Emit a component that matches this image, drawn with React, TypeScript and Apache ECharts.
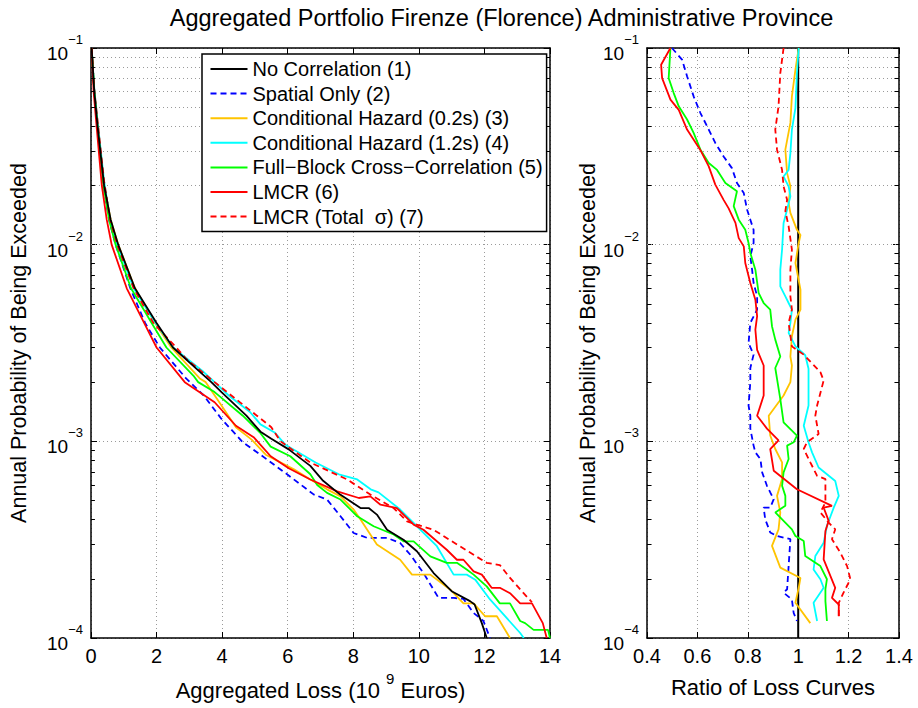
import React, { useEffect, useRef } from "react";
import * as echarts from "echarts";

const FONT = "'Liberation Sans', Arial, Helvetica, sans-serif";

const TITLE = "Aggregated Portfolio Firenze (Florence) Administrative Province";
const Y_NAME = "Annual Probability of Being Exceeded";
const X_NAME_LEFT = ["Aggregated Loss (10 ", "9", " Euros)"];
const X_NAME_RIGHT = "Ratio of Loss Curves";

const seriesNames = [
  "No Correlation (1)",
  "Spatial Only (2)",
  "Conditional Hazard (0.2s) (3)",
  "Conditional Hazard (1.2s) (4)",
  "Full\u2212Block Cross\u2212Correlation (5)",
  "LMCR (6)",
  "LMCR (Total  \u03c3) (7)",
];
const seriesColors = ["#000000", "#0000ff", "#ffc400", "#00ffff", "#00ff00", "#ff0000", "#ff0000"];
const seriesDashed = [false, true, false, false, false, false, true];

// Left panel: [aggregated loss (1e9 EUR), annual probability of exceedance]
const lossNoCorr: [number, number][] = [
  [0.02, 0.1], [0.1, 0.06], [0.2, 0.04], [0.4, 0.02], [0.6, 0.0134], [0.83, 0.01], [1.34, 0.006],
  [2.0, 0.004], [2.5, 0.003], [3.33, 0.00225], [3.67, 0.002], [3.98, 0.00178], [4.74, 0.00135],
  [5.17, 0.00112], [5.5, 0.00103], [6.03, 0.00091], [6.69, 0.00075], [7.08, 0.00063], [7.6, 0.000536],
  [8.22, 0.000458], [8.47, 0.000458], [8.72, 0.000424], [9.03, 0.000355], [9.53, 0.000316],
  [9.94, 0.000276], [10.45, 0.000214], [11.0, 0.000173], [11.56, 0.000154], [11.7, 0.000148],
  [11.92, 0.000119], [12.07, 0.0001],
];
const lossSpatial: [number, number][] = [
  [0.02, 0.1], [0.1, 0.06], [0.2, 0.04], [0.38, 0.02], [0.55, 0.0134], [0.75, 0.01], [1.2, 0.006],
  [1.65, 0.004], [2.1, 0.003], [2.9, 0.00209], [3.44, 0.00171], [3.98, 0.0013], [4.63, 0.00099],
  [5.17, 0.000855], [5.98, 0.00068], [6.8, 0.000536], [7.2, 0.000506], [7.61, 0.000416],
  [8.01, 0.000342], [8.42, 0.000323], [9.03, 0.000323], [9.43, 0.000304], [9.74, 0.000265],
  [10.14, 0.000214], [10.6, 0.00016], [11.06, 0.00016], [11.36, 0.000158], [11.67, 0.000134],
  [11.97, 0.000122], [12.17, 0.0001],
];
const lossCH02: [number, number][] = [
  [0.02, 0.1], [0.1, 0.06], [0.21, 0.04], [0.4, 0.02], [0.6, 0.0134], [0.83, 0.01], [1.34, 0.006],
  [1.95, 0.004], [2.45, 0.003], [3.33, 0.00208], [3.5, 0.002], [3.98, 0.00152], [4.42, 0.00118],
  [4.9, 0.00102], [5.33, 0.000855], [6.19, 0.00072], [6.69, 0.00064], [7.2, 0.00057], [7.61, 0.000525],
  [8.01, 0.00045], [8.22, 0.0004], [8.72, 0.000299], [9.43, 0.00025], [9.79, 0.00021], [10.35, 0.00021],
  [10.96, 0.000176], [11.36, 0.00015], [11.67, 0.00015], [12.02, 0.000129], [12.38, 0.000129],
  [12.78, 0.0001],
];
const lossCH12: [number, number][] = [
  [0.02, 0.1], [0.1, 0.062], [0.21, 0.041], [0.4, 0.021], [0.58, 0.0134], [0.8, 0.01], [1.3, 0.006],
  [1.97, 0.004], [2.5, 0.003], [3.44, 0.00225], [3.77, 0.002], [4.2, 0.00171], [4.85, 0.00141],
  [5.17, 0.00122], [5.6, 0.00111], [5.93, 0.00096], [6.85, 0.00078], [7.56, 0.00068], [8.12, 0.00064],
  [8.53, 0.00057], [8.77, 0.00055], [9.43, 0.00045], [9.94, 0.00037], [10.55, 0.000293],
  [11.06, 0.00021], [11.46, 0.00021], [11.72, 0.000198], [12.17, 0.000157], [13.09, 0.000106],
  [13.2, 0.0001],
];
const lossFullBlock: [number, number][] = [
  [0.02, 0.1], [0.1, 0.06], [0.2, 0.04], [0.38, 0.02], [0.55, 0.0134], [0.75, 0.01], [1.22, 0.006],
  [1.85, 0.004], [2.3, 0.003], [3.12, 0.00216], [3.27, 0.002], [3.77, 0.00178], [4.63, 0.00135],
  [5.17, 0.0011], [5.48, 0.00094], [6.08, 0.00084], [6.69, 0.00068], [6.9, 0.0006], [7.2, 0.000547],
  [7.61, 0.000506], [8.12, 0.000416], [8.62, 0.00037], [9.23, 0.000336], [9.53, 0.00031],
  [9.84, 0.00031], [10.35, 0.00026], [10.85, 0.000241], [11.16, 0.000241], [11.46, 0.000223],
  [11.67, 0.00021], [12.07, 0.000183], [12.47, 0.00015], [12.78, 0.00015], [13.09, 0.000122],
  [13.24, 0.000119], [13.5, 0.00011], [13.94, 0.00011], [14.0, 0.0001],
];
const lossLMCR: [number, number][] = [
  [0.02, 0.1], [0.08, 0.06], [0.17, 0.04], [0.33, 0.02], [0.48, 0.0134], [0.63, 0.01], [1.09, 0.006],
  [1.62, 0.004], [2.0, 0.003], [2.86, 0.002], [3.77, 0.00158], [4.42, 0.0012], [4.96, 0.00105],
  [5.17, 0.00096], [5.48, 0.00084], [6.03, 0.00073], [6.69, 0.00064], [7.51, 0.000557], [8.17, 0.000515],
  [8.52, 0.000525], [8.83, 0.000476], [9.33, 0.000458], [9.84, 0.000377], [10.14, 0.000355],
  [10.85, 0.000281], [11.16, 0.00025], [11.36, 0.00025], [11.67, 0.000218], [11.92, 0.00021],
  [12.22, 0.00018], [12.47, 0.00018], [12.78, 0.000169], [13.09, 0.00015], [13.45, 0.00015],
  [13.78, 0.000119], [13.9, 0.0001],
];
const lossLMCRTotal: [number, number][] = [
  [0.02, 0.1], [0.1, 0.061], [0.21, 0.041], [0.4, 0.021], [0.58, 0.0134], [0.8, 0.01], [1.3, 0.006],
  [1.9, 0.004], [2.6, 0.003], [2.9, 0.00263], [3.77, 0.002], [4.42, 0.00164], [5.06, 0.00135],
  [5.5, 0.00118], [5.78, 0.001], [6.69, 0.00078], [7.81, 0.00064], [8.52, 0.000536], [9.23, 0.000458],
  [9.64, 0.000392], [9.94, 0.000377], [10.45, 0.000355], [11.26, 0.000292], [12.07, 0.000241],
  [12.47, 0.000235], [12.75, 0.000205], [13.18, 0.00017], [13.45, 0.000152],
];

// Right panel: [ratio of loss curves, annual probability of exceedance]
const ratioNoCorr: [number, number][] = [[1, 0.0001], [1, 0.1]];
const ratioSpatial: [number, number][] = [
  [0.499, 0.1], [0.539, 0.0873], [0.559, 0.0718], [0.585, 0.0568], [0.612, 0.0467], [0.645, 0.0385],
  [0.671, 0.0329], [0.704, 0.0281], [0.737, 0.0245], [0.757, 0.0206], [0.784, 0.0183], [0.797, 0.0151],
  [0.81, 0.0134], [0.823, 0.0119], [0.823, 0.0102], [0.81, 0.00873], [0.817, 0.00746], [0.823, 0.00638],
  [0.837, 0.00546], [0.837, 0.00467], [0.81, 0.004], [0.803, 0.00316], [0.823, 0.00276], [0.81, 0.00236],
  [0.81, 0.002], [0.803, 0.00152], [0.81, 0.00135], [0.81, 0.00116], [0.823, 0.000951], [0.83, 0.000879],
  [0.85, 0.000813], [0.857, 0.000695], [0.876, 0.000594], [0.889, 0.00055], [0.903, 0.000508],
  [0.889, 0.00046], [0.863, 0.00046], [0.869, 0.000402], [0.889, 0.000344], [0.916, 0.00033],
  [0.969, 0.000318], [0.962, 0.000232], [0.956, 0.000177], [0.942, 0.00017], [0.975, 0.000157],
  [0.982, 0.000134], [0.995, 0.000122],
];
const ratioCH02: [number, number][] = [
  [1.002, 0.1], [0.989, 0.0776], [0.975, 0.0568], [0.969, 0.0416], [0.949, 0.0304], [0.956, 0.0231],
  [0.969, 0.0198], [0.962, 0.0163], [0.969, 0.0145], [0.995, 0.0119], [1.009, 0.0112], [1.002, 0.0102],
  [0.989, 0.00807], [1.009, 0.0059], [1.009, 0.00467], [0.989, 0.00416], [0.975, 0.00342],
  [0.969, 0.0027], [0.975, 0.00243], [0.969, 0.002], [0.942, 0.00171], [0.883, 0.00135], [0.889, 0.00107],
  [0.909, 0.000914], [0.936, 0.000782], [0.936, 0.000643], [0.916, 0.000528], [0.929, 0.000435],
  [0.922, 0.000357], [0.896, 0.000294], [0.929, 0.000228], [1.009, 0.000202], [1.002, 0.00018],
  [0.989, 0.000151], [1.048, 0.000119],
];
const ratioCH12: [number, number][] = [
  [1.002, 0.1], [0.995, 0.0746], [0.989, 0.0495], [0.975, 0.0385], [0.969, 0.0292], [0.962, 0.024],
  [0.942, 0.0222], [0.962, 0.0198], [0.969, 0.0176], [0.956, 0.0151], [0.942, 0.0129], [0.936, 0.00944],
  [0.929, 0.00746], [0.929, 0.00614], [0.949, 0.00546], [0.962, 0.00505], [0.975, 0.00467],
  [0.969, 0.004], [0.962, 0.00356], [0.989, 0.00304], [1.028, 0.00274], [1.041, 0.00234],
  [1.041, 0.00152], [1.022, 0.0012], [1.041, 0.000989], [1.055, 0.000879], [1.081, 0.000736],
  [1.147, 0.000629], [1.161, 0.000528], [1.141, 0.00046], [1.114, 0.000372], [1.101, 0.000305],
  [1.068, 0.000261], [1.061, 0.000223], [1.088, 0.000199], [1.101, 0.00018], [1.061, 0.000151],
  [1.075, 0.000122],
];
const ratioFullBlock: [number, number][] = [
  [0.493, 0.1], [0.486, 0.0703], [0.506, 0.059], [0.526, 0.0505], [0.559, 0.0433], [0.585, 0.037],
  [0.612, 0.0304], [0.645, 0.026], [0.678, 0.024], [0.711, 0.0206], [0.757, 0.0187], [0.744, 0.0157],
  [0.764, 0.0134], [0.79, 0.0119], [0.803, 0.0102], [0.81, 0.00908], [0.83, 0.00746], [0.843, 0.00568],
  [0.863, 0.00505], [0.889, 0.00467], [0.896, 0.00385], [0.909, 0.00329], [0.929, 0.0027],
  [0.909, 0.00236], [0.916, 0.00208], [0.929, 0.00164], [0.942, 0.00125], [0.995, 0.00107],
  [0.982, 0.000989], [0.956, 0.000951], [0.962, 0.000813], [0.942, 0.000695], [0.936, 0.000594],
  [0.949, 0.000528], [0.949, 0.00047], [0.909, 0.000435], [0.975, 0.000357], [0.989, 0.00033],
  [1.022, 0.000311], [1.028, 0.000261], [1.088, 0.000232], [1.114, 0.000199], [1.108, 0.000177],
  [1.108, 0.000154], [1.114, 0.000122],
];
const ratioLMCR: [number, number][] = [
  [0.493, 0.1], [0.456, 0.0822], [0.46, 0.0703], [0.493, 0.0546], [0.526, 0.0485], [0.559, 0.0385],
  [0.611, 0.0304], [0.645, 0.025], [0.671, 0.0202], [0.704, 0.0169], [0.724, 0.0153], [0.751, 0.0129],
  [0.764, 0.0108], [0.784, 0.0098], [0.79, 0.00807], [0.81, 0.00638], [0.83, 0.00525], [0.837, 0.00433],
  [0.83, 0.0037], [0.837, 0.00292], [0.863, 0.00243], [0.863, 0.00171], [0.837, 0.00135],
  [0.876, 0.00116], [0.922, 0.00101], [0.889, 0.000914], [0.903, 0.000708], [0.995, 0.000571],
  [1.134, 0.00047], [1.101, 0.00046], [1.121, 0.000394], [1.108, 0.00035], [1.101, 0.000251],
  [1.147, 0.00018], [1.134, 0.00016], [1.161, 0.000148], [1.161, 0.000129],
];
const ratioLMCRTotal: [number, number][] = [
  [0.942, 0.1], [0.929, 0.0746], [0.922, 0.0505], [0.909, 0.0385], [0.916, 0.0304], [0.936, 0.024],
  [0.942, 0.0198], [0.956, 0.0169], [0.949, 0.0148], [0.962, 0.0124], [0.975, 0.00944], [0.969, 0.00746],
  [0.969, 0.00546], [0.975, 0.00467], [0.962, 0.004], [0.975, 0.00304], [1.022, 0.00276],
  [1.088, 0.00225], [1.101, 0.00204], [1.075, 0.00152], [1.068, 0.00135], [1.081, 0.00109],
  [1.035, 0.000989], [1.022, 0.000914], [1.048, 0.000782], [1.075, 0.000668], [1.108, 0.000643],
  [1.108, 0.000489], [1.088, 0.000435], [1.121, 0.000386], [1.147, 0.000357], [1.134, 0.000318],
  [1.167, 0.000272], [1.194, 0.000232], [1.207, 0.000199], [1.18, 0.00017], [1.161, 0.000151],
  [1.161, 0.000126],
];

const lossData = [lossNoCorr, lossSpatial, lossCH02, lossCH12, lossFullBlock, lossLMCR, lossLMCRTotal];
const ratioData = [ratioNoCorr, ratioSpatial, ratioCH02, ratioCH12, ratioFullBlock, ratioLMCR, ratioLMCRTotal];

// Minor (2..9 x decade) probability grid levels
const minorGridLevels = [
  2e-4, 3e-4, 4e-4, 5e-4, 6e-4, 7e-4, 8e-4, 9e-4,
  2e-3, 3e-3, 4e-3, 5e-3, 6e-3, 7e-3, 8e-3, 9e-3,
  2e-2, 3e-2, 4e-2, 5e-2, 6e-2, 7e-2, 8e-2, 9e-2,
];

const LEFT_X = { min: 0, max: 14, interval: 2, minorTickLen: 0.12 };
const RIGHT_X = { min: 0.4, max: 1.4, interval: 0.2, minorTickLen: 0.018 };
const Y_RANGE = { min: 1e-4, max: 1e-1 };

export default function App() {
  const ref = useRef<HTMLDivElement>(null);
  useEffect(() => {
    if (!ref.current) return;
    const chart = echarts.init(ref.current, undefined, { renderer: "svg" });

    const gridLine = { show: true, lineStyle: { color: "#9a9a9a", type: [1, 3] as any, width: 1 } };
    const axisLineStyle = { show: true, onZero: false, lineStyle: { color: "#000", width: 1.5 } };
    const tick = { show: true, inside: true, length: 6, lineStyle: { color: "#000", width: 1 } };

    const yLabel = {
      color: "#000",
      fontFamily: FONT,
      margin: 8,
      formatter: (v: number) => {
        const e = Math.round(Math.log10(v));
        return `{b|10}{s|${e < 0 ? "\u2212" : ""}${Math.abs(e)}}`;
      },
      rich: {
        b: { fontSize: 19, fontFamily: FONT, color: "#000", lineHeight: 30, verticalAlign: "bottom" },
        s: { fontSize: 13, fontFamily: FONT, color: "#000", lineHeight: 30, verticalAlign: "top" },
      },
    };
    const xLabel = { color: "#000", fontFamily: FONT, fontSize: 20, margin: 8 };
    const yNameStyle = { color: "#000", fontFamily: FONT, fontSize: 21.5 };

    const makeX = (grid: number, r: any, bottom: boolean, extra: any = {}) => ({
      type: "value",
      gridIndex: grid,
      min: r.min,
      max: r.max,
      interval: r.interval,
      position: bottom ? "bottom" : "top",
      axisLine: axisLineStyle,
      axisTick: tick,
      axisLabel: bottom ? xLabel : { show: false },
      splitLine: bottom ? gridLine : { show: false },
      ...extra,
    });
    const makeY = (grid: number, left: boolean, extra: any = {}) => ({
      type: "log",
      logBase: 10,
      gridIndex: grid,
      min: Y_RANGE.min,
      max: Y_RANGE.max,
      position: left ? "left" : "right",
      axisLine: axisLineStyle,
      axisTick: tick,
      axisLabel: left ? yLabel : { show: false },
      splitLine: left ? gridLine : { show: false },
      ...extra,
    });

    const minorMarkLine = (r: any) => ({
      silent: true,
      symbol: "none",
      z: 1,
      label: { show: false },
      lineStyle: { color: "#9a9a9a", type: [1, 3], width: 1 },
      emphasis: { disabled: true },
      data: minorGridLevels.map((v) => ({ yAxis: v })),
    });
    const minorTickMarkLine = (r: any) => ({
      silent: true,
      symbol: "none",
      z: 6,
      label: { show: false },
      lineStyle: { color: "#000", type: "solid", width: 1 },
      emphasis: { disabled: true },
      data: minorGridLevels.flatMap((v) => [
        [{ coord: [r.min, v] }, { coord: [r.min + r.minorTickLen, v] }],
        [{ coord: [r.max - r.minorTickLen, v] }, { coord: [r.max, v] }],
      ]),
    });

    const series: any[] = [];
    [LEFT_X, RIGHT_X].forEach((r, g) => {
      series.push({
        type: "line",
        name: "__grid" + g,
        xAxisIndex: g * 2,
        yAxisIndex: g * 2,
        data: [],
        z: 1,
        markLine: minorMarkLine(r),
      });
      series.push({
        type: "line",
        name: "__ticks" + g,
        xAxisIndex: g * 2,
        yAxisIndex: g * 2,
        data: [],
        z: 6,
        markLine: minorTickMarkLine(r),
      });
    });
    seriesNames.forEach((name, i) => {
      const lineStyle = {
        color: seriesColors[i],
        width: 1.8,
        type: seriesDashed[i] ? [6, 4] : "solid",
      };
      series.push({
        type: "line",
        name,
        xAxisIndex: 0,
        yAxisIndex: 0,
        data: lossData[i],
        symbol: "none",
        color: seriesColors[i],
        lineStyle,
        z: 3 + (i === 0 ? 0.5 : 0),
      });
      series.push({
        type: "line",
        name,
        xAxisIndex: 2,
        yAxisIndex: 2,
        data: ratioData[i],
        symbol: "none",
        color: seriesColors[i],
        lineStyle: i === 0 ? { ...lineStyle, width: 2 } : lineStyle,
        z: 3,
      });
    });

    chart.setOption({
      animation: false,
      backgroundColor: "#fff",
      textStyle: { fontFamily: FONT },
      grid: [
        { left: 90, top: 48, width: 460, height: 590, containLabel: false },
        { left: 647, top: 48, width: 252, height: 590, containLabel: false },
      ],
      xAxis: [
        makeX(0, LEFT_X, true, {
          name: `{a|${X_NAME_LEFT[0]}}{s|${X_NAME_LEFT[1]}}{a|${X_NAME_LEFT[2]}}`,
          nameLocation: "middle",
          nameGap: 33,
          nameTextStyle: {
            rich: {
              a: { fontSize: 22, fontFamily: FONT, color: "#000", lineHeight: 30, verticalAlign: "bottom" },
              s: { fontSize: 15, fontFamily: FONT, color: "#000", lineHeight: 30, verticalAlign: "top" },
            },
          },
        }),
        makeX(0, LEFT_X, false),
        makeX(1, RIGHT_X, true, {
          name: X_NAME_RIGHT,
          nameLocation: "middle",
          nameGap: 38,
          nameTextStyle: { fontSize: 22, fontFamily: FONT, color: "#000" },
        }),
        makeX(1, RIGHT_X, false),
      ],
      yAxis: [
        makeY(0, true, {
          name: Y_NAME,
          nameLocation: "middle",
          nameGap: 61,
          nameTextStyle: yNameStyle,
        }),
        makeY(0, false),
        makeY(1, true, {
          name: Y_NAME,
          nameLocation: "middle",
          nameGap: 33,
          nameTextStyle: yNameStyle,
        }),
        makeY(1, false),
      ],
      legend: {
        data: seriesNames,
        orient: "vertical",
        left: 202,
        top: 54,
        padding: [5, 4, 5, 7.5],
        itemGap: 4.6,
        itemWidth: 37,
        itemHeight: 14,
        backgroundColor: "#fff",
        borderColor: "#000",
        borderWidth: 1.5,
        borderRadius: 0,
        selectedMode: false,
        itemStyle: { opacity: 0 },
        textStyle: { fontSize: 20, fontFamily: FONT, color: "#000", lineHeight: 20 },
      },
      graphic: [
        {
          type: "text",
          x: 501.5,
          y: 18,
          style: {
            text: TITLE,
            fontSize: 23.5,
            fontFamily: FONT,
            fill: "#000",
            align: "center",
            verticalAlign: "middle",
          },
        },
      ],
      series,
    });
    return () => chart.dispose();
  }, []);
  return (
    <div
      ref={ref}
      style={{ position: "absolute", left: 0, top: 0, width: 918, height: 708, background: "#fff" }}
    />
  );
}
